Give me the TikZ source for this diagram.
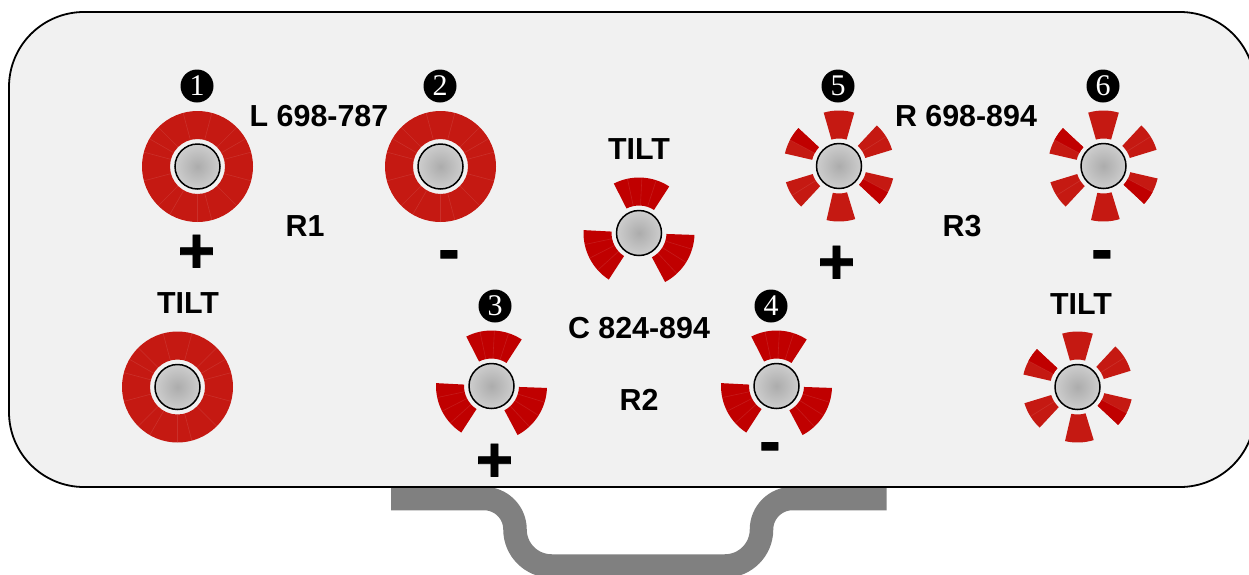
\documentclass[tikz,border=0pt]{standalone}
\usepackage{fontspec}
\setmainfont{Liberation Sans}
\newfontfamily\digitfont{Liberation Serif}
\newfontfamily\signfont[FakeBold=1.2]{Liberation Sans Bold}
\usetikzlibrary{calc}
\definecolor{panelgray}{HTML}{F1F1F1}
\definecolor{redA}{HTML}{C51912}
\definecolor{redB}{HTML}{C00000}
\definecolor{bracketgray}{HTML}{808080}
\definecolor{knobin}{HTML}{ACACAC}
\definecolor{knobout}{HTML}{EEEEEE}
\pgfdeclareradialshading{knobshade}{\pgfpoint{0bp}{0bp}}{color(0bp)=(knobin);color(50bp)=(knobout)}
\tikzset{
  panel/.style={draw=black,line width=1.8pt,fill=panelgray,rounded corners=75pt},
  bracket/.style={draw=bracketgray,line width=23.5pt},
  knob/.style={circle,draw=black,line width=1.5pt,minimum size=45pt,inner sep=0pt,shading=knobshade},
  badge/.style={circle,fill=black,text=white,minimum size=33pt,inner sep=0pt,font=\digitfont\fontsize{30}{30}\selectfont},
  lab/.style={font=\bfseries\fontsize{30.4}{30.4}\selectfont,anchor=base,inner sep=0pt},
  sign/.style={font=\signfont\fontsize{64}{64}\selectfont,anchor=base,inner sep=0pt},
  seam/.style={draw=white,opacity=.1,line width=.6pt}
}
% centre name, from angle, to angle, colour
\newcommand{\blade}[4]{%
  \fill[#4] ([shift={(#1)}]#2:55.5) arc[start angle=#2,end angle=#3,radius=55.5]
    -- ([shift={(#1)}]#3:27.5) arc[start angle=#3,end angle=#2,radius=27.5] -- cycle;}
\newcommand{\seams}[2]{%
  \foreach \sa in {#2} {\draw[seam] ([shift={(#1)}]\sa:27.5) -- ([shift={(#1)}]\sa:55.5);}}
\newcommand{\ringpart}[1]{%
  \blade{#1}{0}{360}{redA}
  \seams{#1}{15,30,45,75,105,135,150,165,195,225,240,270,285,315,345}}
\newcommand{\threepart}[1]{%
  \blade{#1}{57}{117}{redB}\blade{#1}{177}{237}{redB}\blade{#1}{-62}{-2}{redB}
  \seams{#1}{72,87,102,192,207,222,-17,-32,-47}}
\newcommand{\sixpart}[1]{%
  \blade{#1}{74}{106}{redA}\blade{#1}{17}{47}{redA}\blade{#1}{137}{167}{redA}
  \blade{#1}{197}{227}{redA}\blade{#1}{257}{287}{redA}\blade{#1}{-43}{-13}{redA}
  \blade{#1}{137}{152}{redB}\blade{#1}{-43}{-28}{redB}
  \seams{#1}{32,152,212,-28}}
\begin{document}
\begin{tikzpicture}[x=1pt,y=1pt]
\useasboundingbox (0,0) rectangle (1249,-574);
\fill[white] (0,0) rectangle (1249,-574);
\draw[bracket] (391,-498.5) -- (484,-498.5) arc[start angle=90,end angle=0,radius=31]
  arc[start angle=180,end angle=270,radius=36.5] -- (725,-566)
  arc[start angle=270,end angle=360,radius=36.5] arc[start angle=180,end angle=90,radius=31] -- (886.5,-498.5);
\draw[panel] (9,-12) rectangle (1255,-487);
\coordinate (c1) at (197.5,-166.5);
\coordinate (c2) at (440.5,-166.5);
\coordinate (c3) at (177.5,-387);
\coordinate (c4) at (639,-233);
\coordinate (c5) at (491.5,-386);
\coordinate (c6) at (776.5,-386);
\coordinate (c7) at (839,-166);
\coordinate (c8) at (1103.5,-166);
\coordinate (c9) at (1077.5,-387);
\ringpart{c1}\ringpart{c2}\ringpart{c3}
\threepart{c4}\threepart{c5}\threepart{c6}
\sixpart{c7}\sixpart{c8}\sixpart{c9}
\foreach \k in {1,...,9} {\node[knob] (knob\k) at (c\k) {};}
\node[badge] (b1) at (197,-86) {1};
\node[badge] (b2) at (440,-86) {2};
\node[badge] (b3) at (495,-306) {3};
\node[badge] (b4) at (771,-306) {4};
\node[badge] (b5) at (838,-86) {5};
\node[badge] (b6) at (1103,-86) {6};
\node[lab] (l1) at (319,-126) {L 698-787};
\node[lab] (l2) at (966,-126) {R 698-894};
\node[lab] (l3) at (639,-338) {C 824-894};
\node[lab] (t1) at (639,-159) {TILT};
\node[lab] (t2) at (188,-313) {TILT};
\node[lab] (t3) at (1081,-314) {TILT};
\node[lab] (r1) at (305,-236) {R1};
\node[lab] (r2) at (639,-410) {R2};
\node[lab] (r3) at (962,-236) {R3};
\node[sign] (p1) at (196.5,-272.5) {+};
\node[sign] (p2) at (836.5,-283.5) {+};
\node[sign] (p3) at (494.5,-481.5) {+};
\node[sign] (m1) at (449,-271) {-};
\node[sign] (m2) at (1102,-271) {-};
\node[sign] (m3) at (770,-463) {-};
\end{tikzpicture}
\end{document}
